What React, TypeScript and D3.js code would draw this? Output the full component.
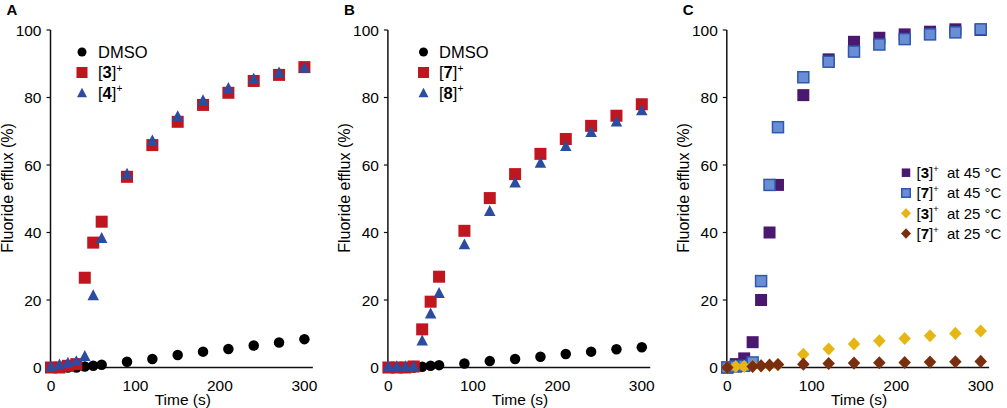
import React from "react";
import * as d3 from "d3";

const times = [0, 10, 20, 30, 40, 50, 60, 90, 120, 150, 180, 210, 240, 270, 300];

// Panel A
const dmsoA = [0, 0, 0, 0, 0.3, 0.5, 0.8, 1.7, 2.5, 3.7, 4.7, 5.5, 6.5, 7.4, 8.4];
const c3A = [0, 0, 0.5, 1, 26.6, 37, 43.2, 56.5, 65.9, 72.8, 77.8, 81.4, 84.9, 86.7, 89];
const c4A = [0, 0.5, 1, 1.5, 3, 21, 38, 57, 66.9, 74.1, 78.8, 82.4, 85.2, 87, 88.4];

// Panel B
const dmsoB = [0, 0, 0, 0, 0.2, 0.5, 0.7, 1.2, 1.9, 2.5, 3.2, 4.0, 4.7, 5.4, 6.0];
const c7B = [0, 0, 0, 0.3, 11.3, 19.5, 26.9, 40.5, 50.2, 57.3, 63.3, 67.7, 71.6, 74.6, 78];
const c8B = [0, 0, 0, 0, 7.6, 15.6, 21.7, 36.1, 46, 54.4, 60.3, 65.2, 69.4, 72.5, 75.8];

// Panel C
const c3at45 = [0, 1, 2.7, 7.5, 20, 40, 54.1, 80.7, 91.3, 96.5, 97.7, 98.7, 99.5, 100.2, 100];
const c7at45 = [0, 0.3, 0.5, 1.5, 25.6, 54.1, 71.2, 86, 90.6, 93.6, 95.7, 97.3, 98.7, 99.3, 100.2];
const c3at25 = [0, 0.3, 0.3, 0.4, 0.5, 0.6, 0.8, 3.9, 5.5, 7.0, 7.9, 8.6, 9.4, 10.1, 10.8];
const c7at25: (number | null)[] = [0, null, null, 0.3, 0.5, 0.7, 0.9, 1.0, 1.2, 1.3, 1.4, 1.5, 1.6, 1.7, 1.8];

const xTicks = [0, 100, 200, 300];
const yTicks = [0, 20, 40, 60, 80, 100];
const panelLetters = ["A", "B", "C"];
const legendA = ["DMSO", "3", "4"];
const legendB = ["DMSO", "7", "8"];
const legendC = [
  { num: "3", temp: "45" },
  { num: "7", temp: "45" },
  { num: "3", temp: "25" },
  { num: "7", temp: "25" },
];

const FONT = "'Liberation Sans', Arial, Helvetica, sans-serif";
const RED = "#C0161F";
const BLUE = "#2B4C9F";
const PURPLE = "#4A196F";
const LBLUE = "#6A8ED5";
const LBLUE_S = "#2F58AE";
const GOLD = "#E6B714";
const BROWN = "#7A2E10";

const y = d3.scaleLinear().domain([0, 100]).range([367.5, 30]);
const panelX0 = [51, 388.4, 727.3];
const makeX = (x0: number) => d3.scaleLinear().domain([0, 300]).range([x0, x0 + 253.4]);

type Shape = "circle" | "square" | "triangle" | "diamond";

function Marker({ shape, cx, cy, fill, stroke, size }: { shape: Shape; cx: number; cy: number; fill: string; stroke?: string; size: number }) {
  const s = size / 2;
  if (shape === "circle") return <circle cx={cx} cy={cy} r={s} fill={fill} />;
  if (shape === "square")
    return (
      <rect x={cx - s} y={cy - s} width={size} height={size} fill={fill}
        stroke={stroke || "none"} strokeWidth={stroke ? 1.5 : 0} />
    );
  if (shape === "triangle") {
    const h = size * 0.95;
    const p = [
      [cx, cy - (2 * h) / 3],
      [cx + s, cy + h / 3],
      [cx - s, cy + h / 3],
    ];
    return <polygon points={p.map((q) => q.join(",")).join(" ")} fill={fill} />;
  }
  const p = [
    [cx, cy - s * 1.05],
    [cx + s, cy],
    [cx, cy + s * 1.05],
    [cx - s, cy],
  ];
  return <polygon points={p.map((q) => q.join(",")).join(" ")} fill={fill} />;
}

function Series({ x, vals, shape, fill, stroke, size }: { x: d3.ScaleLinear<number, number>; vals: (number | null)[]; shape: Shape; fill: string; stroke?: string; size: number }) {
  return (
    <g>
      {vals.map((v, i) =>
        v === null ? null : (
          <Marker key={i} shape={shape} cx={x(times[i])} cy={y(v)} fill={fill} stroke={stroke} size={size} />
        )
      )}
    </g>
  );
}

function Axes({ x, idx }: { x: d3.ScaleLinear<number, number>; idx: number }) {
  const x0 = x(0) - 0.5;
  const xEnd = x(310);
  return (
    <g fontFamily={FONT} fill="#000">
      <line x1={x0} x2={x0} y1={y(100)} y2={y(0)} stroke="#111" strokeWidth={1.5} />
      <line x1={x0} x2={xEnd} y1={y(0)} y2={y(0)} stroke="#111" strokeWidth={1.5} />
      {yTicks.map((t) => (
        <g key={t}>
          <line x1={x0 - 4} x2={x0} y1={y(t)} y2={y(t)} stroke="#111" strokeWidth={1.2} />
          <text x={x0 - 9} y={y(t)} dy="0.36em" textAnchor="end" fontSize={15.5}>{t}</text>
        </g>
      ))}
      {xTicks.map((t) => (
        <text key={t} x={x(t)} y={390.5} textAnchor="middle" fontSize={15.5}>{t}</text>
      ))}
      <text x={x(156)} y={405} textAnchor="middle" fontSize={15.5}>Time (s)</text>
      <text transform={`translate(${x0 - 37.5},188) rotate(-90)`} textAnchor="middle" fontSize={16}>
        Fluoride efflux (%)
      </text>
      <text x={x0 - 44} y={15} fontSize={15} fontWeight="bold">{panelLetters[idx]}</text>
    </g>
  );
}

function LegendLabel({ x, yy, num, fs }: { x: number; yy: number; num: string; fs: number }) {
  return (
    <text x={x} y={yy} dy="0.36em" fontSize={fs} fontFamily={FONT}>
      [<tspan fontWeight="bold">{num}</tspan>]
      <tspan fontSize={fs * 0.62} dy={-fs * 0.42}>+</tspan>
    </text>
  );
}

export default function App() {
  const xA = makeX(panelX0[0]);
  const xB = makeX(panelX0[1]);
  const xC = makeX(panelX0[2]);
  const legRows = [52, 72.5, 93];
  const legRowsC = [172.7, 193, 213.3, 233.5];
  return (
    <svg width={1007} height={408} style={{ position: "absolute", left: 0, top: 0, background: "#fff" }}>
      <rect x={0} y={0} width={1007} height={408} fill="#fff" />
      {/* Panel A */}
      <Axes x={xA} idx={0} />
      <Series x={xA} vals={dmsoA} shape="circle" fill="#000" size={10.5} />
      <Series x={xA} vals={c3A} shape="square" fill={RED} size={12} />
      <Series x={xA} vals={c4A} shape="triangle" fill={BLUE} size={11.5} />
      <Marker shape="circle" cx={82} cy={legRows[0]} fill="#000" size={9} />
      <Marker shape="square" cx={82} cy={legRows[1]} fill={RED} size={11} />
      <Marker shape="triangle" cx={82} cy={legRows[2] + 1} fill={BLUE} size={10} />
      <text x={98} y={legRows[0]} dy="0.36em" fontSize={16.5} fontFamily={FONT}>{legendA[0]}</text>
      <LegendLabel x={98} yy={legRows[1]} num={legendA[1]} fs={16.5} />
      <LegendLabel x={98} yy={legRows[2]} num={legendA[2]} fs={16.5} />

      {/* Panel B */}
      <Axes x={xB} idx={1} />
      <Series x={xB} vals={dmsoB} shape="circle" fill="#000" size={10.5} />
      <Series x={xB} vals={c7B} shape="square" fill={RED} size={12} />
      <Series x={xB} vals={c8B} shape="triangle" fill={BLUE} size={11.5} />
      <Marker shape="circle" cx={423.5} cy={legRows[0]} fill="#000" size={9} />
      <Marker shape="square" cx={423.5} cy={legRows[1]} fill={RED} size={11} />
      <Marker shape="triangle" cx={423.5} cy={legRows[2] + 1} fill={BLUE} size={10} />
      <text x={439} y={legRows[0]} dy="0.36em" fontSize={16.5} fontFamily={FONT}>{legendB[0]}</text>
      <LegendLabel x={439} yy={legRows[1]} num={legendB[1]} fs={16.5} />
      <LegendLabel x={439} yy={legRows[2]} num={legendB[2]} fs={16.5} />

      {/* Panel C */}
      <Axes x={xC} idx={2} />
      <Series x={xC} vals={c3at45} shape="square" fill={PURPLE} size={12} />
      <Series x={xC} vals={c7at45} shape="square" fill={LBLUE} stroke={LBLUE_S} size={11} />
      <Series x={xC} vals={c3at25} shape="diamond" fill={GOLD} size={12.5} />
      <Series x={xC} vals={c7at25} shape="diamond" fill={BROWN} size={12.5} />
      {legendC.map((d, i) => {
        const shape: Shape = i < 2 ? "square" : "diamond";
        const fill = [PURPLE, LBLUE, GOLD, BROWN][i];
        return (
          <g key={i}>
            <Marker shape={shape} cx={906} cy={legRowsC[i]} fill={fill} stroke={i === 1 ? LBLUE_S : undefined} size={i < 2 ? 8.5 : 10} />
            <LegendLabel x={916.5} yy={legRowsC[i]} num={d.num} fs={15} />
            <text x={947} y={legRowsC[i]} dy="0.36em" fontSize={15} fontFamily={FONT}>at {d.temp} °C</text>
          </g>
        );
      })}
    </svg>
  );
}
